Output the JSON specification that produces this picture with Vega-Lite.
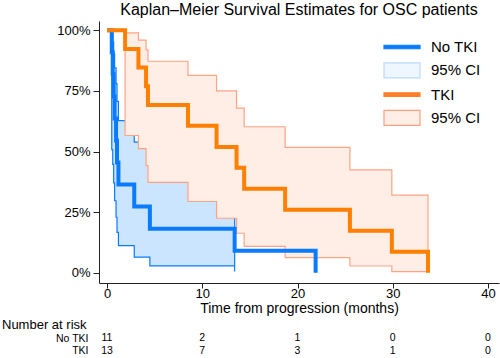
{
  "$schema": "https://vega.github.io/schema/vega-lite/v6.json",
  "padding": {"left": 2, "top": 2, "right": 1, "bottom": 0},
  "config": {
    "font": "Liberation Sans",
    "view": {"stroke": null},
    "axis": {"grid": false, "domainColor": "#222", "tickColor": "#222", "labelColor": "#000", "titleColor": "#000", "titleFontWeight": "normal", "domainWidth": 1, "tickWidth": 1},
    "title": {"fontWeight": "normal", "color": "#000"}
  },
  "datasets": {
    "lineNo": [
      {"key": "No TKI", "t": 0, "s": 1},
      {"key": "No TKI", "t": 0.5, "s": 0.909},
      {"key": "No TKI", "t": 0.6, "s": 0.818},
      {"key": "No TKI", "t": 0.7, "s": 0.727},
      {"key": "No TKI", "t": 0.8, "s": 0.636},
      {"key": "No TKI", "t": 0.95, "s": 0.545},
      {"key": "No TKI", "t": 1.05, "s": 0.455},
      {"key": "No TKI", "t": 1.2, "s": 0.364},
      {"key": "No TKI", "t": 2.86, "s": 0.273},
      {"key": "No TKI", "t": 4.5, "s": 0.182},
      {"key": "No TKI", "t": 13.4, "s": 0.091},
      {"key": "No TKI", "t": 21.9, "s": 0}
    ],
    "lineTki": [
      {"key": "TKI", "t": 0, "s": 1},
      {"key": "TKI", "t": 1.9, "s": 0.923},
      {"key": "TKI", "t": 3.3, "s": 0.846},
      {"key": "TKI", "t": 4.1, "s": 0.769},
      {"key": "TKI", "t": 4.3, "s": 0.692},
      {"key": "TKI", "t": 8.5, "s": 0.606},
      {"key": "TKI", "t": 11.5, "s": 0.519},
      {"key": "TKI", "t": 13.6, "s": 0.433},
      {"key": "TKI", "t": 14.4, "s": 0.346},
      {"key": "TKI", "t": 18.7, "s": 0.26},
      {"key": "TKI", "t": 25.5, "s": 0.173},
      {"key": "TKI", "t": 29.9, "s": 0.087},
      {"key": "TKI", "t": 33.7, "s": 0}
    ],
    "ciNo": [
      {"t": 0.5, "lo": 0.508, "hi": 0.987},
      {"t": 0.6, "lo": 0.447, "hi": 0.951},
      {"t": 0.7, "lo": 0.371, "hi": 0.903},
      {"t": 0.8, "lo": 0.297, "hi": 0.845},
      {"t": 0.95, "lo": 0.229, "hi": 0.78},
      {"t": 1.05, "lo": 0.167, "hi": 0.707},
      {"t": 1.2, "lo": 0.112, "hi": 0.627},
      {"t": 2.86, "lo": 0.065, "hi": 0.539},
      {"t": 4.5, "lo": 0.029, "hi": 0.442},
      {"t": 13.4, "lo": 0.005, "hi": 0.005}
    ],
    "ciTki": [
      {"t": 1.9, "lo": 0.566, "hi": 0.989},
      {"t": 3.3, "lo": 0.512, "hi": 0.959},
      {"t": 4.1, "lo": 0.442, "hi": 0.919},
      {"t": 4.3, "lo": 0.373, "hi": 0.872},
      {"t": 8.5, "lo": 0.294, "hi": 0.814},
      {"t": 11.5, "lo": 0.225, "hi": 0.75},
      {"t": 13.6, "lo": 0.163, "hi": 0.679},
      {"t": 14.4, "lo": 0.109, "hi": 0.602},
      {"t": 18.7, "lo": 0.063, "hi": 0.517},
      {"t": 25.5, "lo": 0.028, "hi": 0.424},
      {"t": 29.9, "lo": 0.005, "hi": 0.32},
      {"t": 33.7, "lo": 0.005, "hi": 0.005}
    ],
    "risk": [
      {"group": "No TKI", "t": 0, "n": 11},
      {"group": "No TKI", "t": 10, "n": 2},
      {"group": "No TKI", "t": 20, "n": 1},
      {"group": "No TKI", "t": 30, "n": 0},
      {"group": "No TKI", "t": 40, "n": 0},
      {"group": "TKI", "t": 0, "n": 13},
      {"group": "TKI", "t": 10, "n": 7},
      {"group": "TKI", "t": 20, "n": 3},
      {"group": "TKI", "t": 30, "n": 1},
      {"group": "TKI", "t": 40, "n": 0}
    ]
  },
  "spacing": 4,
  "vconcat": [
    {
      "width": 400,
      "height": 262,
      "title": {"text": "Kaplan–Meier Survival Estimates for OSC patients", "fontSize": 16, "anchor": "middle", "frame": "group", "offset": 3},
      "encoding": {
        "x": {"field": "t", "type": "quantitative", "scale": {"domain": [-0.84, 41.15], "nice": false, "zero": false},
              "axis": {"values": [0, 10, 20, 30, 40], "title": "Time from progression (months)", "titleFontSize": 14, "titlePadding": 1, "tickSize": 5, "labelPadding": -1, "labelFontSize": 13}}
      },
      "layer": [
        {
          "data": {"name": "ciNo"},
          "mark": {"type": "area", "interpolate": "step-after", "fill": "#CCE5FF", "fillOpacity": 1, "stroke": "#0A7BFF", "strokeWidth": 1.2},
          "encoding": {
            "y": {"field": "lo", "type": "quantitative", "scale": {"domain": [-0.042, 1.038], "nice": false, "zero": false},
                  "axis": {"values": [0, 0.25, 0.5, 0.75, 1], "format": ".0%", "title": null, "tickSize": 6, "labelPadding": 3, "labelFontSize": 13}},
            "y2": {"field": "hi"}
          }
        },
        {
          "data": {"name": "ciTki"},
          "mark": {"type": "area", "interpolate": "step-after", "fill": "#FFEEE6", "fillOpacity": 1, "stroke": "#FFA385", "strokeWidth": 1.2},
          "encoding": {
            "y": {"field": "lo", "type": "quantitative", "scale": {"domain": [-0.042, 1.038], "nice": false, "zero": false},
                  "axis": {"values": [0, 0.25, 0.5, 0.75, 1], "format": ".0%", "title": null, "tickSize": 6, "labelPadding": 3, "labelFontSize": 13}},
            "y2": {"field": "hi"}
          }
        },
        {
          "data": {"name": "lineNo"},
          "mark": {"type": "line", "interpolate": "step-after", "color": "#0A7BFF", "strokeWidth": 4},
          "encoding": {
            "y": {"field": "s", "type": "quantitative", "scale": {"domain": [-0.042, 1.038], "nice": false, "zero": false},
                  "axis": {"values": [0, 0.25, 0.5, 0.75, 1], "format": ".0%", "title": null, "tickSize": 6, "labelPadding": 3, "labelFontSize": 13}},
            "opacity": {
              "field": "key", "type": "nominal",
              "scale": {"domain": ["No TKI", "CI No TKI", "TKI", "CI TKI"], "range": [1, 1, 1, 1]},
              "legend": {
                "title": null, "orient": "none", "legendX": 294, "legendY": 17, "padding": 0,
                "symbolSize": 256,
                "symbolStrokeWidth": 1.2,
                "symbolType": {"expr": "indexof(datum.value,'CI')==0 ? 'M-2.25,-0.94H2.25V0.94H-2.25Z' : 'M-2.25,-0.22H2.25V0.22H-2.25Z'"},
                "symbolFillColor": {"expr": "datum.value=='CI No TKI' ? '#EEF6FF' : datum.value=='CI TKI' ? '#FFEEE6' : datum.value=='TKI' ? '#FF7F2A' : '#0A7BFF'"},
                "symbolStrokeColor": {"expr": "datum.value=='No TKI' ? '#0A7BFF' : datum.value=='CI No TKI' ? '#BBD9FF' : datum.value=='TKI' ? '#FF7F2A' : '#FF9F80'"},
                "symbolOpacity": 1,
                "labelExpr": "indexof(datum.label,'CI')==0 ? '95% CI' : datum.label",
                "labelFontSize": 15, "labelColor": "#000", "labelOffset": 20, "rowPadding": 5.3
              }
            }
          }
        },
        {
          "data": {"name": "lineTki"},
          "mark": {"type": "line", "interpolate": "step-after", "color": "#FF7F00", "strokeWidth": 4},
          "encoding": {
            "y": {"field": "s", "type": "quantitative", "scale": {"domain": [-0.042, 1.038], "nice": false, "zero": false},
                  "axis": {"values": [0, 0.25, 0.5, 0.75, 1], "format": ".0%", "title": null, "tickSize": 6, "labelPadding": 3, "labelFontSize": 13}}
          }
        }
      ]
    },
    {
      "width": 400,
      "height": 25,
      "data": {"name": "risk"},
      "title": {"text": "Number at risk", "anchor": "start", "frame": "group", "dx": -97, "fontSize": 13, "offset": 0},
      "mark": {"type": "text", "fontSize": 10.5, "color": "#000"},
      "encoding": {
        "x": {"field": "t", "type": "quantitative", "scale": {"domain": [-0.84, 41.15], "nice": false, "zero": false}, "axis": null},
        "y": {"field": "group", "type": "nominal", "sort": ["No TKI", "TKI"], "axis": {"title": null, "ticks": false, "tickSize": 0, "domain": false, "labelPadding": 11, "labelFontSize": 10.5}},
        "text": {"field": "n", "type": "quantitative"}
      }
    }
  ]
}
